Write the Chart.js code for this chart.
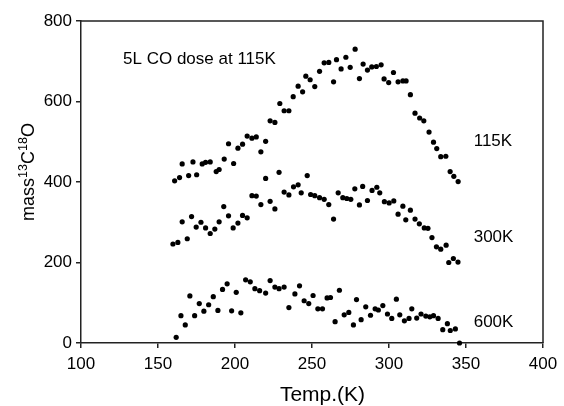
<!DOCTYPE html>
<html>
<head>
<meta charset="utf-8">
<script src="https://cdn.jsdelivr.net/npm/chart.js@4/dist/chart.umd.min.js"></script>
<style>
  html, body { margin: 0; padding: 0; background: #fff; }
</style>
</head>
<body>
<canvas id="chart" width="564" height="406"></canvas>
<script>
// 5L CO dose at 115K, readings per series (temperature K, mass 13C18O signal)
const temp115 = [160.8, 164.0, 165.7, 169.9, 172.7, 175.1, 178.7, 180.9, 183.9, 187.8, 189.7, 193.0, 195.8, 199.1, 201.9, 204.9, 207.9, 211.0, 213.8, 216.8, 219.9, 222.8, 225.9, 229.1, 231.9, 235.0, 237.8, 241.0, 243.9, 246.0, 248.8, 251.8, 254.9, 257.9, 260.9, 264.0, 265.9, 268.9, 272.0, 274.8, 278.0, 280.8, 283.2, 286.0, 288.8, 291.8, 294.9, 296.8, 299.8, 302.9, 305.9, 309.0, 311.1, 313.9, 316.9, 319.9, 322.6, 326.0, 328.9, 331.0, 333.6, 336.9, 339.7, 342.1, 344.9];
const mass115 = [403, 411, 445, 416, 450, 418, 445, 449, 450, 426, 431, 457, 495, 446, 484, 494, 514, 509, 512, 475, 501, 552, 548, 595, 577, 577, 612, 638, 624, 663, 654, 637, 675, 696, 697, 649, 704, 681, 710, 685, 730, 657, 693, 678, 686, 687, 691, 656, 647, 672, 649, 651, 651, 617, 571, 559, 552, 524, 499, 483, 463, 464, 426, 414, 401];

const temp300 = [159.7, 162.9, 165.7, 169.0, 171.8, 174.8, 177.9, 180.9, 183.9, 186.9, 189.7, 192.7, 195.8, 198.8, 201.9, 204.9, 207.9, 211.0, 213.8, 216.8, 219.9, 222.8, 225.9, 228.6, 231.9, 235.0, 238.0, 241.0, 243.0, 246.9, 249.1, 251.8, 254.9, 257.9, 260.9, 264.0, 267.0, 270.0, 272.6, 275.2, 277.8, 280.8, 282.9, 286.0, 289.0, 292.1, 294.0, 297.0, 300.1, 303.1, 305.9, 309.0, 310.9, 313.9, 316.9, 319.7, 322.9, 325.3, 327.9, 330.8, 333.6, 337.1, 338.8, 341.8, 344.8];
const mass300 = [246, 250, 301, 259, 314, 288, 300, 286, 272, 283, 301, 339, 316, 286, 298, 317, 311, 366, 365, 344, 409, 352, 333, 424, 375, 368, 388, 393, 373, 416, 369, 366, 361, 357, 344, 308, 373, 361, 359, 357, 383, 343, 389, 354, 379, 387, 373, 351, 348, 353, 320, 340, 306, 330, 308, 296, 286, 285, 262, 239, 233, 243, 200, 210, 201];

const temp600 = [161.8, 164.9, 167.7, 170.7, 173.8, 176.8, 179.8, 182.9, 185.9, 188.9, 191.9, 194.9, 197.8, 200.8, 203.8, 206.9, 209.9, 212.9, 216.0, 219.9, 222.8, 225.9, 228.6, 231.9, 235.0, 238.9, 241.9, 244.9, 247.9, 250.7, 253.8, 256.8, 259.8, 262.0, 265.0, 267.8, 270.9, 273.9, 276.9, 278.9, 281.9, 284.9, 288.0, 291.0, 293.1, 296.0, 299.0, 301.8, 304.8, 307.0, 310.0, 313.0, 314.8, 318.0, 320.8, 323.9, 326.5, 328.9, 331.9, 334.9, 337.9, 339.8, 343.1, 345.8];
const mass600 = [14, 68, 45, 117, 68, 98, 79, 95, 115, 81, 133, 147, 80, 126, 75, 157, 152, 135, 130, 124, 155, 139, 135, 139, 88, 122, 142, 105, 98, 118, 85, 85, 112, 113, 53, 131, 70, 76, 45, 108, 58, 90, 69, 85, 82, 93, 72, 61, 109, 70, 55, 61, 85, 62, 72, 67, 65, 68, 61, 33, 48, 31, 35, 0];

const seriesNames = ['115K', '300K', '600K'];
const xTicks = [100, 150, 200, 250, 300, 350, 400];
const yTicks = [0, 200, 400, 600, 800];
const note = '5L CO dose at 115K';
const xTitle = 'Temp.(K)';

const FONT = "'Liberation Sans', Arial, Helvetica, sans-serif";

const toPoints = (xs, ys) => xs.map((x, i) => ({ x: x, y: ys[i] }));

function dotSet(name, xs, ys) {
  return {
    label: name,
    data: toPoints(xs, ys),
    showLine: false,
    pointRadius: 2.6,
    pointBorderWidth: 0,
    pointBackgroundColor: '#000',
    pointBorderColor: '#000',
    clip: false
  };
}

// frame, axis titles (y one with superscripts), and the text notes
const decorations = {
  id: 'decorations',
  afterDraw(chart) {
    const { ctx, chartArea: a, scales } = chart;
    ctx.save();
    ctx.strokeStyle = '#222';
    ctx.lineWidth = 1.5;
    ctx.beginPath();
    ctx.moveTo(a.left, a.top);
    ctx.lineTo(a.right, a.top);
    ctx.lineTo(a.right, a.bottom);
    ctx.stroke();

    ctx.fillStyle = '#000';
    ctx.textBaseline = 'middle';
    ctx.textAlign = 'left';
    ctx.font = '17px ' + FONT;
    ctx.fillText(note, scales.x.getPixelForValue(127.3), scales.y.getPixelForValue(706));
    const labelY = [500, 262, 51];
    seriesNames.forEach((s, i) => {
      ctx.fillText(s, scales.x.getPixelForValue(355), scales.y.getPixelForValue(labelY[i]));
    });

    ctx.textAlign = 'center';
    ctx.font = '21px ' + FONT;
    ctx.fillText(xTitle, 322.5, 395);

    // y title: mass 13C 18O
    ctx.textAlign = 'left';
    const parts = [['mass', 18, 0], ['13', 12.5, -7.5], ['C', 18, 0], ['18', 12.5, -7.5], ['O', 18, 0]];
    ctx.textBaseline = 'alphabetic';
    let total = 0;
    parts.forEach(p => { ctx.font = p[1] + 'px ' + FONT; total += ctx.measureText(p[0]).width; });
    ctx.translate(34, 172);
    ctx.rotate(-Math.PI / 2);
    let x = -total / 2;
    parts.forEach(p => {
      ctx.font = p[1] + 'px ' + FONT;
      ctx.fillText(p[0], x, p[2]);
      x += ctx.measureText(p[0]).width;
    });
    ctx.restore();
  }
};

new Chart(document.getElementById('chart'), {
  type: 'scatter',
  data: {
    datasets: [
      dotSet(seriesNames[0], temp115, mass115),
      dotSet(seriesNames[1], temp300, mass300),
      dotSet(seriesNames[2], temp600, mass600)
    ]
  },
  options: {
    responsive: false,
    animation: false,
    devicePixelRatio: 1,
    layout: { padding: { top: 21, right: 21, left: 0, bottom: 0 } },
    plugins: {
      legend: { display: false },
      tooltip: { enabled: false }
    },
    scales: {
      x: {
        type: 'linear',
        min: 100,
        max: 400,
        afterBuildTicks: s => { s.ticks = xTicks.map(v => ({ value: v })); },
        afterFit: s => { s.height = 63; },
        ticks: { color: '#000', font: { family: FONT, size: 17 }, padding: 6, maxRotation: 0 },
        grid: { drawOnChartArea: false, tickLength: 5, color: '#222', lineWidth: 1.5 },
        border: { color: '#222', width: 1.5 }
      },
      y: {
        min: 0,
        max: 800,
        afterBuildTicks: s => { s.ticks = yTicks.map(v => ({ value: v })); },
        afterFit: s => { s.width = 81; },
        ticks: { color: '#000', font: { family: FONT, size: 17 }, padding: 4 },
        grid: { drawOnChartArea: false, tickLength: 5, color: '#222', lineWidth: 1.5 },
        border: { color: '#222', width: 1.5 }
      }
    }
  },
  plugins: [decorations]
});
</script>
</body>
</html>
